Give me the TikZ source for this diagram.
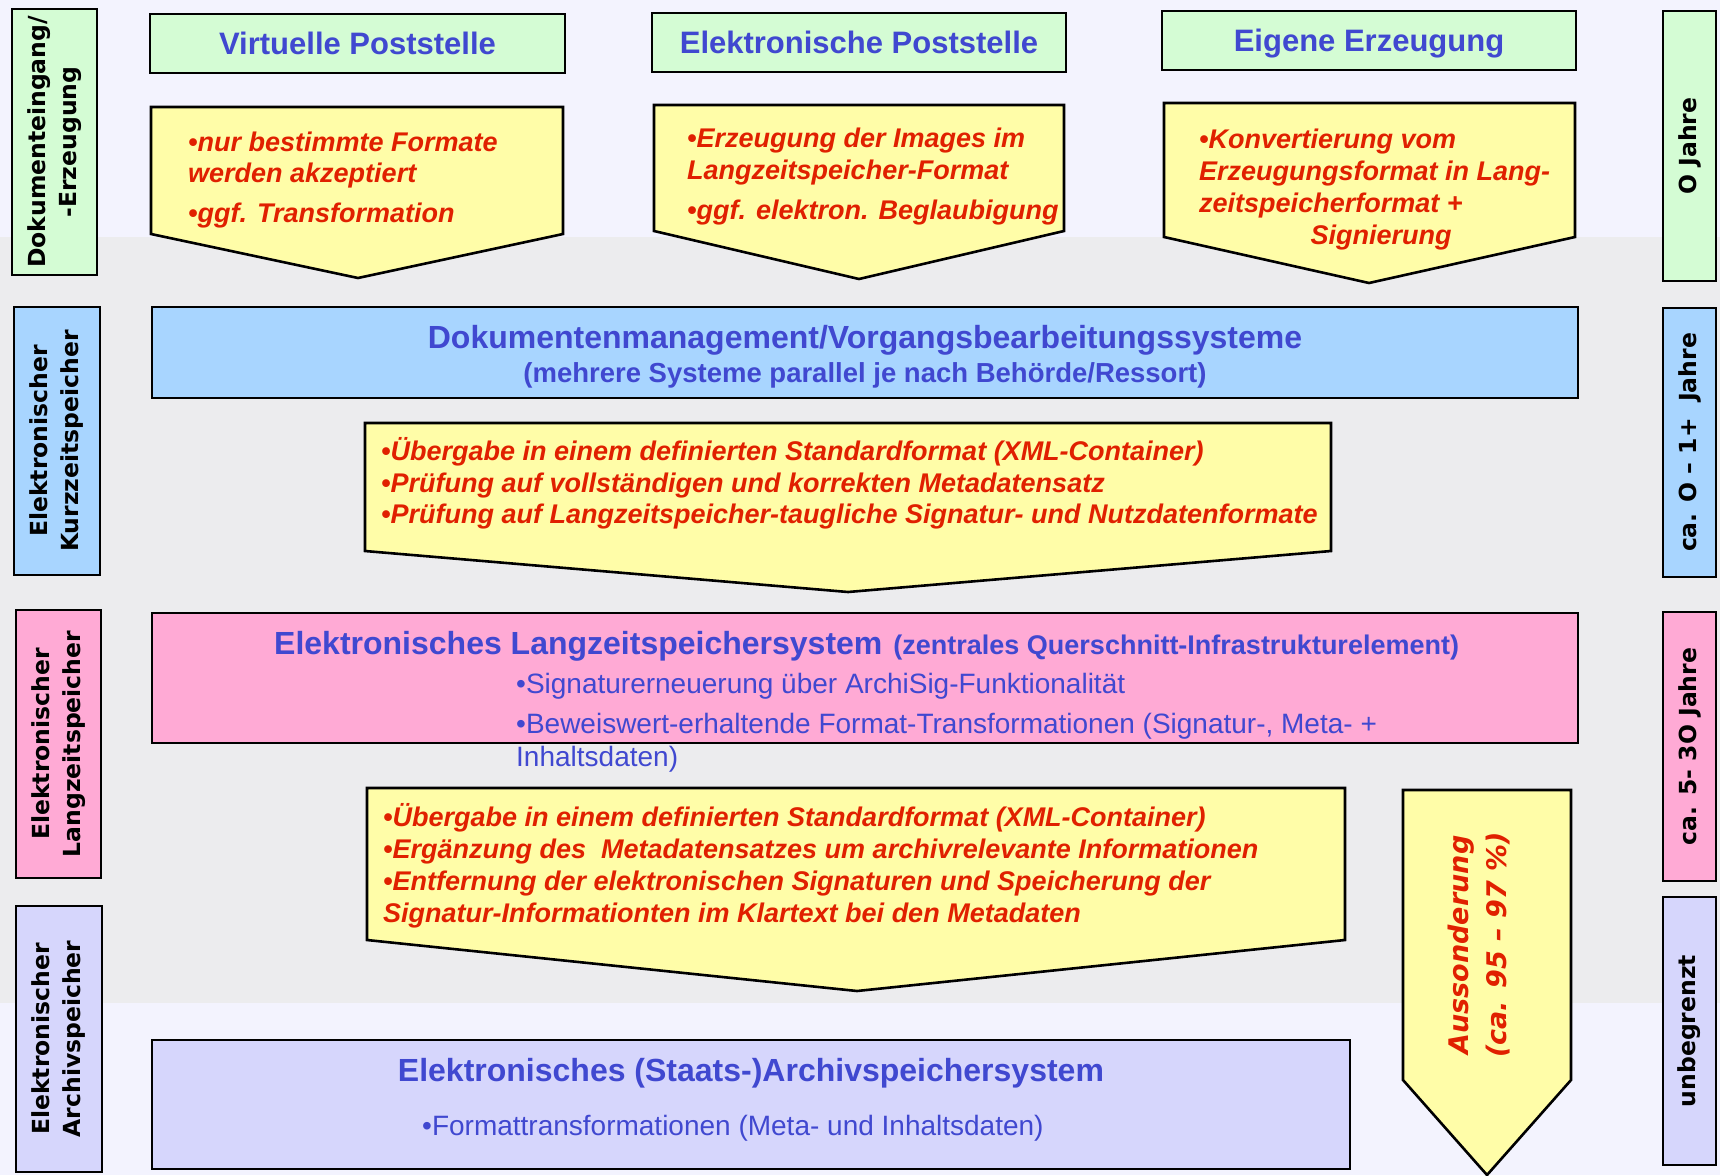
\documentclass[tikz,border=0pt]{standalone}
\usepackage{fontspec}
\setmainfont{Liberation Sans}
\newfontfamily\widesans[Ligatures=TeX]{DejaVu Sans}
\usetikzlibrary{fit}

\definecolor{bglav}{HTML}{F3F3FE}
\definecolor{bgband}{HTML}{ECECEE}
\definecolor{boxgreen}{HTML}{D4FCD4}
\definecolor{boxblue}{HTML}{A8D5FF}
\definecolor{boxpink}{HTML}{FFAAD5}
\definecolor{boxlav}{HTML}{D6D6FC}
\definecolor{boxyellow}{HTML}{FFFDA8}
\definecolor{txtblue}{HTML}{4048D0}
\definecolor{txtred}{HTML}{E02000}

\newcommand\fsz[2]{\fontsize{#1}{#2}\selectfont}

\begin{document}
\begin{tikzpicture}[x=1pt,y=-1pt,
  box/.style={draw=black, line width=2.6pt, inner sep=0pt},
  gbox/.style={box, fill=boxgreen},
  bbox/.style={box, fill=boxblue},
  pbox/.style={box, fill=boxpink},
  lbox/.style={box, fill=boxlav},
  yarrow/.style={draw=black, line width=2.6pt, fill=boxyellow, line join=miter},
  sidetxt/.style={rotate=90, align=center, inner sep=0pt, text=black,
    font=\widesans\bfseries\fsz{23.5}{31}},
  ttl/.style={anchor=base, inner sep=0pt, text=txtblue, font=\bfseries\fsz{31}{31}},
  bigttl/.style={anchor=base, inner sep=0pt, text=txtblue, font=\bfseries\fsz{32}{32}},
  subttl/.style={anchor=base, inner sep=0pt, text=txtblue, font=\bfseries\fsz{27.5}{27.5}},
  ytxt/.style={anchor=base west, inner sep=0pt, text=txtred, font=\bfseries\itshape\fsz{27}{32}},
  ptxt/.style={anchor=base west, inner sep=0pt, text=txtblue, font=\fsz{28}{33}}]

% page background with the grey middle band
\fill[bglav] (0,0) rectangle (1720,1175);
\fill[bgband] (0,237) rectangle (1720,1003);
\useasboundingbox (0,0) rectangle (1720,1175);

% ---- left column: storage stages
\node[gbox, fit={(12,9)(97,275)}] (l1) {};
\node[bbox, fit={(14,307)(100,575)}] (l2) {};
\node[pbox, fit={(16,610)(101,878)}] (l3) {};
\node[lbox, fit={(16,906)(102,1172)}] (l4) {};
\node[sidetxt] (l1t) at (l1.center) {Dokumenteingang/\\-Erzeugung};
\node[sidetxt] (l2t) at (l2.center) {Elektronischer\\Kurzzeitspeicher};
\node[sidetxt] (l3t) at (l3.center) {Elektronischer\\Langzeitspeicher};
\node[sidetxt] (l4t) at (l4.center) {Elektronischer\\Archivspeicher};

% ---- right column: retention periods
\node[gbox, fit={(1663,11)(1716,281)}] (r1) {};
\node[bbox, fit={(1663,308)(1716,577)}] (r2) {};
\node[pbox, fit={(1663,612)(1716,881)}] (r3) {};
\node[lbox, fit={(1663,897)(1716,1165)}] (r4) {};
\node[sidetxt] (r1t) at (r1.center) {O Jahre};
\node[sidetxt] (r2t) at (r2.center) {ca. O – 1+~~Jahre};
\node[sidetxt] (r3t) at (r3.center) {ca. 5- 3O Jahre};
\node[sidetxt] (r4t) at (r4.center) {unbegrenzt};

% ---- sources
\node[gbox, fit={(150,14)(565,73)}] (g1) {};
\node[gbox, fit={(652,13)(1066,72)}] (g2) {};
\node[gbox, fit={(1162,11)(1576,70)}] (g3) {};
\node[ttl] (g1t) at (357.5,54.5) {Virtuelle Poststelle};
\node[ttl] (g2t) at (859,53.5) {Elektronische Poststelle};
\node[ttl] (g3t) at (1369,51.5) {Eigene Erzeugung};

% ---- intake arrows
\draw[yarrow] (151,107) -- (563,107) -- (563,234) -- (358,278) -- (151,234) -- cycle;
\draw[yarrow] (654,105) -- (1064,105) -- (1064,231) -- (859,279) -- (654,231) -- cycle;
\draw[yarrow] (1164,103) -- (1575,103) -- (1575,237) -- (1369,283) -- (1164,237) -- cycle;

\node[ytxt] (a1a) at (188,151) {•nur bestimmte Formate};
\node[ytxt] (a1b) at (188,182) {werden akzeptiert};
\node[ytxt] (a1c) at (188,222) {•ggf. Transformation};

\node[ytxt] (a2a) at (687,147) {•Erzeugung der Images im};
\node[ytxt] (a2b) at (687,179) {Langzeitspeicher-Format};
\node[ytxt] (a2c) at (687,219) {•ggf. elektron. Beglaubigung};

\node[ytxt] (a3a) at (1199,148) {•Konvertierung vom};
\node[ytxt] (a3b) at (1199,180) {Erzeugungsformat in Lang-};
\node[ytxt] (a3c) at (1199,212) {zeitspeicherformat +};
\node[ytxt, anchor=base] (a3d) at (1381,244) {Signierung};

% ---- short-term storage
\node[bbox, fit={(152,307)(1578,398)}] (dms) {};
\node[bigttl] (dmst) at (865,348) {Dokumentenmanagement/Vorgangsbearbeitungssysteme};
\node[subttl] (dmss) at (865,382) {(mehrere Systeme parallel je nach Behörde/Ressort)};

\draw[yarrow] (365,423) -- (1331,423) -- (1331,551) -- (848,592) -- (365,551) -- cycle;
\node[ytxt] (m1) at (381,460) {•Übergabe in einem definierten Standardformat (XML-Container)};
\node[ytxt] (m2) at (381,492) {•Prüfung auf vollständigen und korrekten Metadatensatz};
\node[ytxt] (m3) at (381,523) {•Prüfung auf Langzeitspeicher-taugliche Signatur- und Nutzdatenformate};

% ---- long-term storage
\node[pbox, fit={(152,613)(1578,743)}] (lzs) {};
\node[anchor=base west, inner sep=0pt, text=txtblue] (lzst) at (274,654)
  {{\bfseries\fsz{32}{32}Elektronisches Langzeitspeichersystem}\hspace{11pt}%
   {\bfseries\fsz{27}{27}(zentrales Querschnitt-Infrastrukturelement)}};
\node[ptxt] (p1) at (516,693) {•Signaturerneuerung über ArchiSig-Funktionalität};
\node[ptxt] (p2) at (516,733) {•Beweiswert-erhaltende Format-Transformationen (Signatur-, Meta- +};
\node[ptxt] (p3) at (516,766) {Inhaltsdaten)};

\draw[yarrow] (367,788) -- (1345,788) -- (1345,940) -- (857,991) -- (367,940) -- cycle;
\node[ytxt] (k1) at (383,826) {•Übergabe in einem definierten Standardformat (XML-Container)};
\node[ytxt] (k2) at (383,858) {•Ergänzung des~~Metadatensatzes um archivrelevante Informationen};
\node[ytxt] (k3) at (383,890) {•Entfernung der elektronischen Signaturen und Speicherung der};
\node[ytxt] (k4) at (383,922) {Signatur-Informationten im Klartext bei den Metadaten};

% ---- disposal arrow
\draw[yarrow] (1403,790) -- (1571,790) -- (1571,1080) -- (1487,1175) -- (1403,1080) -- cycle;
\node[rotate=90, align=center, inner sep=0pt, text=txtred,
  font=\widesans\bfseries\itshape\fsz{27}{38}] (aus) at (1479,945)
  {Aussonderung\\(ca. 95 – 97 \%)};

% ---- archive storage
\node[lbox, fit={(152,1040)(1350,1169)}] (arc) {};
\node[bigttl] (arct) at (751,1081) {Elektronisches (Staats-)Archivspeichersystem};
\node[ptxt] (arcb) at (422,1135) {•Formattransformationen (Meta- und Inhaltsdaten)};

\end{tikzpicture}
\end{document}
